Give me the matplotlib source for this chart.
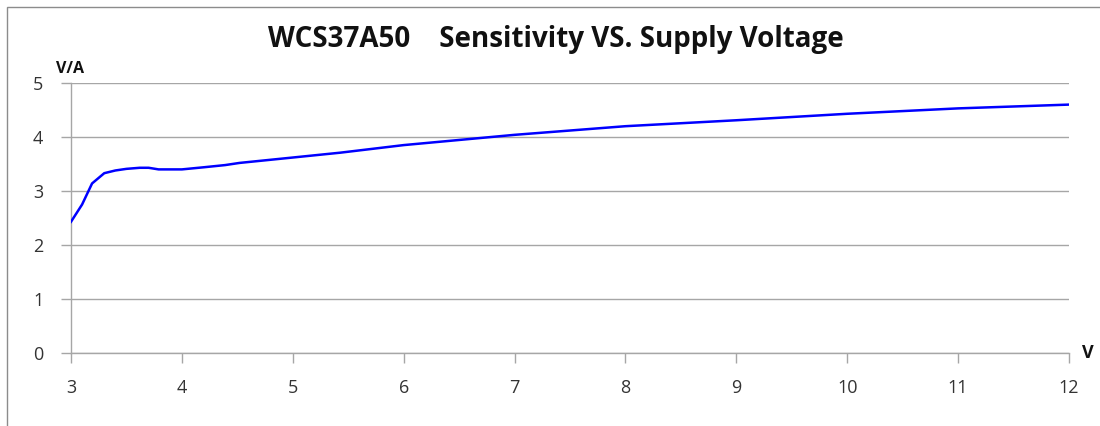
import matplotlib
matplotlib.use("Agg")
import matplotlib.pyplot as plt
from matplotlib.patches import Rectangle

voltage = [3.0, 3.1, 3.19, 3.3, 3.4, 3.5, 3.62, 3.7, 3.79, 3.9, 4.0, 4.2, 4.39, 4.52, 5.0, 5.43, 6.0, 7.0, 8.0, 9.0, 10.0, 11.0, 12.0]
sensitivity = [2.43, 2.75, 3.14, 3.33, 3.38, 3.41, 3.43, 3.43, 3.40, 3.40, 3.40, 3.44, 3.48, 3.52, 3.62, 3.71, 3.85, 4.04, 4.20, 4.31, 4.43, 4.53, 4.60]
x_ticks = [3, 4, 5, 6, 7, 8, 9, 10, 11, 12]
y_ticks = [0, 1, 2, 3, 4, 5]
title = "WCS37A50    Sensitivity VS. Supply Voltage"

plt.rcParams['font.family'] = ['Open Sans', 'DejaVu Sans']

fig = plt.figure(figsize=(11, 4.26), dpi=100)
ax = fig.add_axes([71/1100, 73/426, (1069-71)/1100, (353-83)/426])

ax.plot(voltage, sensitivity, color='#0000ff', lw=1.8, zorder=3)

ax.set_xlim(3, 12)
ax.set_ylim(0, 5)
ax.set_xticks(x_ticks)
ax.set_yticks(y_ticks)
ax.yaxis.grid(True, color='#a6a6a6', lw=1.0)
ax.set_axisbelow(True)
for s in ['top', 'right']:
    ax.spines[s].set_visible(False)
for s in ['left', 'bottom']:
    ax.spines[s].set_color('#a6a6a6')
    ax.spines[s].set_linewidth(1.0)
ax.tick_params(axis='both', colors='#a6a6a6', length=7, width=1.0, labelcolor='#333333', labelsize=13)
ax.tick_params(axis='x', pad=12)
ax.tick_params(axis='y', pad=13)

fig.text(556/1100, 1 - 39/426, title, ha='center', va='center', fontsize=20, fontweight='bold', color='#111111')
fig.text(70/1100, 1 - 69/426, "V/A", ha='center', va='center', fontsize=11.5, fontweight='bold', color='#111111')
fig.text(1088/1100, 1 - 353/426, "V", ha='center', va='center', fontsize=13, fontweight='bold', color='#111111')

fig.patches.append(Rectangle((7/1100, -0.1), 1.2, 1 - 7/426 + 0.1, transform=fig.transFigure,
                             fill=False, edgecolor='#8c8c8c', lw=1.0))

fig.savefig("out.png", dpi=100)
